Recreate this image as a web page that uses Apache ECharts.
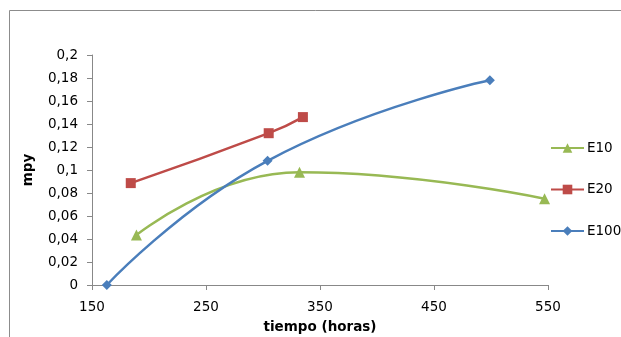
<!DOCTYPE html>
<html>
<head>
<meta charset="utf-8">
<script src="https://cdn.jsdelivr.net/npm/echarts@6/dist/echarts.min.js"></script>
<style>
  html, body { margin: 0; padding: 0; background: #fff; }
  #chart { width: 621px; height: 337px; }
</style>
</head>
<body>
<div id="chart"></div>
<script>
// Corrosion rate (mpy) over exposure time (hours)
const seriesNames = ['E10', 'E20', 'E100'];
const e10Hours = [189, 332, 547];
const e10Mpy   = [0.0435, 0.098, 0.075];
const e20Hours = [184, 305, 335];
const e20Mpy   = [0.0886, 0.132, 0.146];
const e100Hours = [163, 304, 499];
const e100Mpy   = [0, 0.108, 0.178];

const colors = { E10: '#98B954', E20: '#BE4B48', E100: '#4A7EBB' };
const symbols = { E10: 'triangle', E20: 'rect', E100: 'diamond' };
const symbolSizes = { E10: 11, E20: 10, E100: 10 };

const pairs = (xs, ys) => xs.map((x, i) => [x, ys[i]]);
const dataByName = {
  E10: pairs(e10Hours, e10Mpy),
  E20: pairs(e20Hours, e20Mpy),
  E100: pairs(e100Hours, e100Mpy)
};

const fmt = v => String(+v.toFixed(2)).replace('.', ',');
const font = 'DejaVu Sans, sans-serif';
const fs = 13.5;

const chart = echarts.init(document.getElementById('chart'), null, { renderer: 'canvas' });
chart.setOption({
  animation: false,
  backgroundColor: '#fff',
  graphic: [{
    type: 'rect',
    shape: { x: 9.5, y: 10.5, width: 800, height: 500 },
    style: { fill: 'none', stroke: '#8c8c8c', lineWidth: 1 },
    z: -1
  }],
  grid: { left: 92, right: 73, top: 55, bottom: 52, containLabel: false, outerBoundsMode: 'none' },
  legend: {
    orient: 'vertical',
    left: 550,
    top: 141,
    padding: 0,
    itemWidth: 33,
    itemHeight: 12,
    itemGap: 27.5,
    textStyle: { fontFamily: font, fontSize: fs, color: '#000', padding: [0, 0, 0, -2] },
    data: seriesNames
  },
  xAxis: {
    type: 'value',
    min: 150, max: 550, interval: 100,
    name: 'tiempo (horas)',
    nameLocation: 'middle',
    nameGap: 35,
    nameTextStyle: { fontFamily: font, fontSize: fs, fontWeight: 'bold', color: '#000' },
    axisLine: { lineStyle: { color: '#888', width: 1 } },
    axisTick: { show: true, length: 5, lineStyle: { color: '#888' } },
    axisLabel: { fontFamily: font, fontSize: fs, color: '#000', margin: 15 },
    splitLine: { show: false }
  },
  yAxis: {
    type: 'value',
    min: 0, max: 0.2, interval: 0.02,
    name: 'mpy',
    nameLocation: 'middle',
    nameRotate: 90,
    nameGap: 57,
    nameTextStyle: { fontFamily: font, fontSize: fs, fontWeight: 'bold', color: '#000' },
    axisLine: { show: true, lineStyle: { color: '#888', width: 1 } },
    axisTick: { show: true, length: 5, lineStyle: { color: '#888' } },
    axisLabel: { fontFamily: font, fontSize: fs, color: '#000', margin: 14, formatter: fmt },
    splitLine: { show: false }
  },
  series: seriesNames.map(name => ({
    name,
    type: 'line',
    data: dataByName[name],
    smooth: 0.5,
    symbol: symbols[name],
    symbolSize: symbolSizes[name],
    color: colors[name],
    lineStyle: { width: 2.5, color: colors[name] },
    itemStyle: { color: colors[name] }
  }))
});
</script>
</body>
</html>
